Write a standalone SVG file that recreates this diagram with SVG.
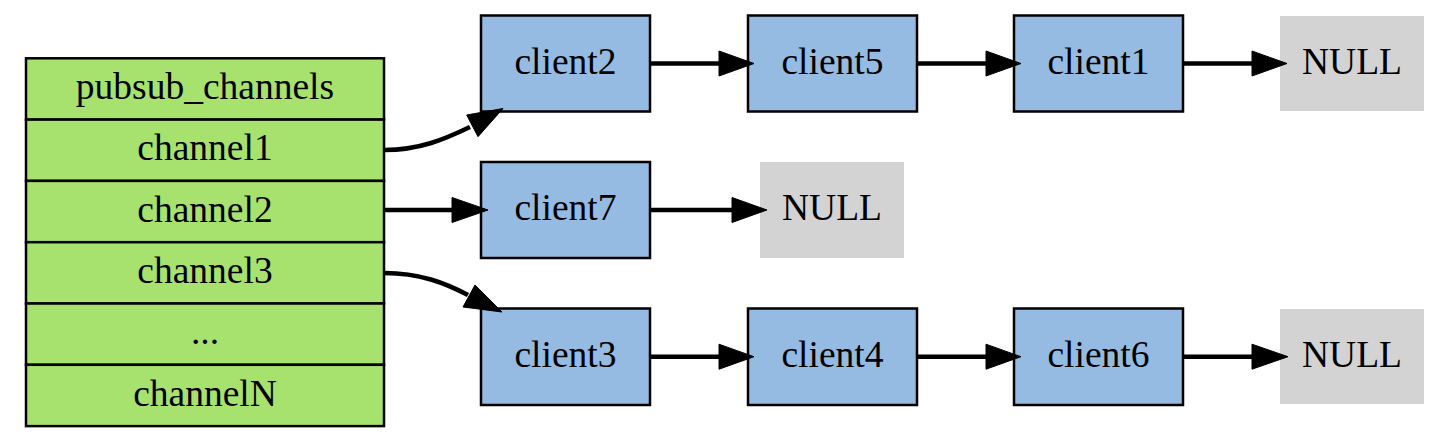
<svg xmlns="http://www.w3.org/2000/svg" width="1454" height="436" viewBox="0 0 1454 436">
<style>
text{font-family:"Liberation Serif","Times New Roman",serif;font-size:37.5px;text-anchor:middle;fill:#000}
.row{fill:#a8e26e;stroke:#000;stroke-width:2.5}
.client{fill:#95bbe3;stroke:#000;stroke-width:2.5}
.null{fill:#d3d3d3;stroke:none}
.edge{fill:none;stroke:#000;stroke-width:4.5}
.head{fill:#000;stroke:#000;stroke-width:1}
</style>
<rect width="1454" height="436" fill="#fff"/>
<g id="pubsub_channels">
<rect class="row" x="26" y="58.3" width="358" height="61.3"/>
<rect class="row" x="26" y="119.6" width="358" height="61.3"/>
<rect class="row" x="26" y="180.9" width="358" height="61.3"/>
<rect class="row" x="26" y="242.2" width="358" height="61.3"/>
<rect class="row" x="26" y="303.5" width="358" height="61.3"/>
<rect class="row" x="26" y="364.8" width="358" height="61.3"/>
<text x="205" y="99">pubsub_channels</text>
<text x="205" y="160.3">channel1</text>
<text x="205" y="221.6">channel2</text>
<text x="205" y="282.9">channel3</text>
<text x="205" y="344.2">...</text>
<text x="205" y="405.5">channelN</text>
</g>
<g id="client2"><rect class="client" x="481" y="15.5" width="169" height="96"/><text x="565.5" y="73.5">client2</text></g>
<g id="client5"><rect class="client" x="748" y="15.5" width="169" height="96"/><text x="832.5" y="73.5">client5</text></g>
<g id="client1"><rect class="client" x="1014" y="15.5" width="169" height="96"/><text x="1098.5" y="73.5">client1</text></g>
<g id="null1"><rect class="null" x="1280" y="16" width="144" height="95"/><text x="1352" y="73.5">NULL</text></g>
<g id="client7"><rect class="client" x="481" y="162" width="169" height="96"/><text x="565.5" y="220">client7</text></g>
<g id="null2"><rect class="null" x="760" y="162" width="144" height="96"/><text x="832" y="220">NULL</text></g>
<g id="client3"><rect class="client" x="481" y="308.5" width="169" height="96.5"/><text x="565.5" y="366.7">client3</text></g>
<g id="client4"><rect class="client" x="748" y="308.5" width="169" height="96.5"/><text x="832.5" y="366.7">client4</text></g>
<g id="client6"><rect class="client" x="1014" y="308.5" width="169" height="96.5"/><text x="1098.5" y="366.7">client6</text></g>
<g id="null3"><rect class="null" x="1280" y="309" width="144" height="95"/><text x="1352" y="366.7">NULL</text></g>
<g id="connectors">
<path class="edge" d="M384,150 C420,150 445,139 470,127"/>
<polygon class="head" points="466.7,115 503,108.5 478,136.7"/>
<path class="edge" d="M384,210 L452,210"/>
<polygon class="head" points="452,197.5 488,210 452,222.5"/>
<path class="edge" d="M384,273 C420,273 445,283 468,295"/>
<polygon class="head" points="475,285 502,312 463,307"/>
<path class="edge" d="M650,63.5 L719,63.5"/>
<polygon class="head" points="719,51 754,63.5 719,76"/>
<path class="edge" d="M917,63.5 L986,63.5"/>
<polygon class="head" points="986,51 1021,63.5 986,76"/>
<path class="edge" d="M1183,63.5 L1252,63.5"/>
<polygon class="head" points="1252,51 1287,63.5 1252,76"/>
<path class="edge" d="M650,210 L732,210"/>
<polygon class="head" points="732,197.5 767,210 732,222.5"/>
<path class="edge" d="M650,356.7 L719,356.7"/>
<polygon class="head" points="719,344.2 754,356.7 719,369.2"/>
<path class="edge" d="M917,356.7 L986,356.7"/>
<polygon class="head" points="986,344.2 1021,356.7 986,369.2"/>
<path class="edge" d="M1183,356.7 L1252,356.7"/>
<polygon class="head" points="1252,344.2 1288,356.7 1252,369.2"/>
</g>
</svg>
